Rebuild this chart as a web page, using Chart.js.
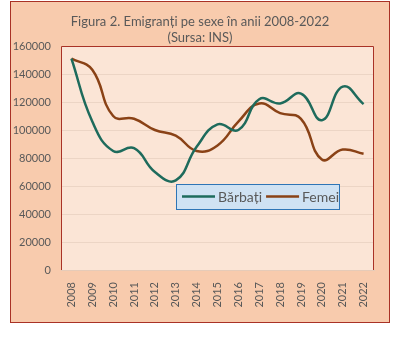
<!DOCTYPE html>
<html>
<head>
<meta charset="utf-8">
<script src="https://cdn.jsdelivr.net/npm/chart.js@4/dist/chart.umd.min.js"></script>
<style>
  html, body { margin: 0; padding: 0; background: #ffffff; }
  #wrap { width: 414px; height: 344px; }
</style>
</head>
<body>
<div id="wrap"><canvas id="emigChart" width="414" height="344"></canvas></div>
<script>
/*--data--*/
var years = ["2008","2009","2010","2011","2012","2013","2014","2015","2016","2017","2018","2019","2020","2021","2022"];
var barbati = [151000, 106000, 85000, 87000, 70000, 64000, 88000, 104000, 100000, 122000, 119000, 126000, 107000, 131000, 118500];
var femei = [151000, 143000, 110000, 108000, 100000, 96000, 85000, 89000, 106000, 119000, 112000, 108000, 79000, 86000, 83000];
var yTicks = [0, 20000, 40000, 60000, 80000, 100000, 120000, 140000, 160000];
var titleLines = ["Figura 2. Emigranți pe sexe în anii 2008-2022", "(Sursa: INS)"];

var grey = "#595959";
var font = "Lato, 'Open Sans', sans-serif";

/*--backgrounds, title and legend drawn on canvas--*/
var frame = {
  id: 'frame',
  beforeDraw: function (chart) {
    var ctx = chart.ctx, a = chart.chartArea;
    ctx.save();
    ctx.fillStyle = "#f8cbad";
    ctx.fillRect(10, 1, 379, 321);
    ctx.strokeStyle = "#a93226";
    ctx.lineWidth = 1;
    ctx.strokeRect(10.5, 1.5, 379, 321);
    ctx.fillStyle = "#fbe5d6";
    ctx.fillRect(a.left, a.top, a.right - a.left, a.bottom - a.top);
    // title
    ctx.fillStyle = grey;
    ctx.font = "13px " + font;
    ctx.textAlign = "center";
    ctx.textBaseline = "middle";
    titleLines.forEach(function (t, i) {
      ctx.fillText(t, 200, 22 + i * 15.5);
    });
    ctx.restore();
  },
  afterDatasetsDraw: function (chart) {
    var ctx = chart.ctx, a = chart.chartArea;
    ctx.save();
    ctx.strokeStyle = "#a93226";
    ctx.lineWidth = 1;
    ctx.beginPath();
    ctx.moveTo(a.left + 0.5, a.bottom);
    ctx.lineTo(a.left + 0.5, a.top + 0.5);
    ctx.lineTo(a.right - 0.5, a.top + 0.5);
    ctx.lineTo(a.right - 0.5, a.bottom);
    ctx.stroke();
    ctx.restore();
  },
  afterDraw: function (chart) {
    var ctx = chart.ctx;
    var x = 176, y = 184, w = 163, h = 25;
    ctx.save();
    ctx.fillStyle = "#cfe2f3";
    ctx.fillRect(x, y, w, h);
    ctx.beginPath();
    ctx.rect(x, y, w, h);
    ctx.clip();
    ctx.font = "14px " + font;
    ctx.textBaseline = "middle";
    var cx = x + 6;
    chart.data.datasets.forEach(function (ds) {
      ctx.strokeStyle = ds.borderColor;
      ctx.lineWidth = 2.5;
      ctx.beginPath();
      ctx.moveTo(cx, y + h / 2);
      ctx.lineTo(cx + 33, y + h / 2);
      ctx.stroke();
      ctx.fillStyle = grey;
      ctx.fillText(ds.label, cx + 36, y + h / 2 + 1);
      cx += 36 + ctx.measureText(ds.label).width + 4;
    });
    ctx.restore();
    ctx.save();
    ctx.strokeStyle = "#2e75b6";
    ctx.lineWidth = 1;
    ctx.strokeRect(x + 0.5, y + 0.5, w, h);
    ctx.restore();
  }
};

var emigChart = new Chart(document.getElementById('emigChart'), {
  type: 'line',
  data: {
    labels: years,
    datasets: [
      {
        label: "Bărbați",
        data: barbati,
        borderColor: "#1e6b5c",
        borderWidth: 2.5,
        pointRadius: 0,
        tension: 0.45
      },
      {
        label: "Femei",
        data: femei,
        borderColor: "#8a4216",
        borderWidth: 2.5,
        pointRadius: 0,
        tension: 0.45
      }
    ]
  },
  options: {
    responsive: false,
    animation: false,
    layout: { padding: { left: 10, right: 40, top: 46, bottom: 0 } },
    plugins: {
      legend: { display: false },
      tooltip: { enabled: false },
      title: { display: false }
    },
    scales: {
      x: {
        offset: true,
        grid: { display: false },
        border: { display: true, color: "#e6cbb8" },
        ticks: {
          color: grey,
          font: { family: font, size: 11 },
          minRotation: 90,
          maxRotation: 90,
          padding: 4
        },
        afterFit: function (s) { s.height = 74; }
      },
      y: {
        min: 0,
        max: 160000,
        afterBuildTicks: function (s) { s.ticks = yTicks.map(function (v) { return { value: v }; }); },
        grid: { color: "#ecd5c5", drawTicks: false },
        border: { display: false },
        ticks: {
          color: grey,
          font: { family: font, size: 11 },
          padding: 10,
          callback: function (v) { return String(v); }
        },
        afterFit: function (s) { s.width = 51; }
      }
    }
  },
  plugins: [frame]
});
</script>
</body>
</html>
